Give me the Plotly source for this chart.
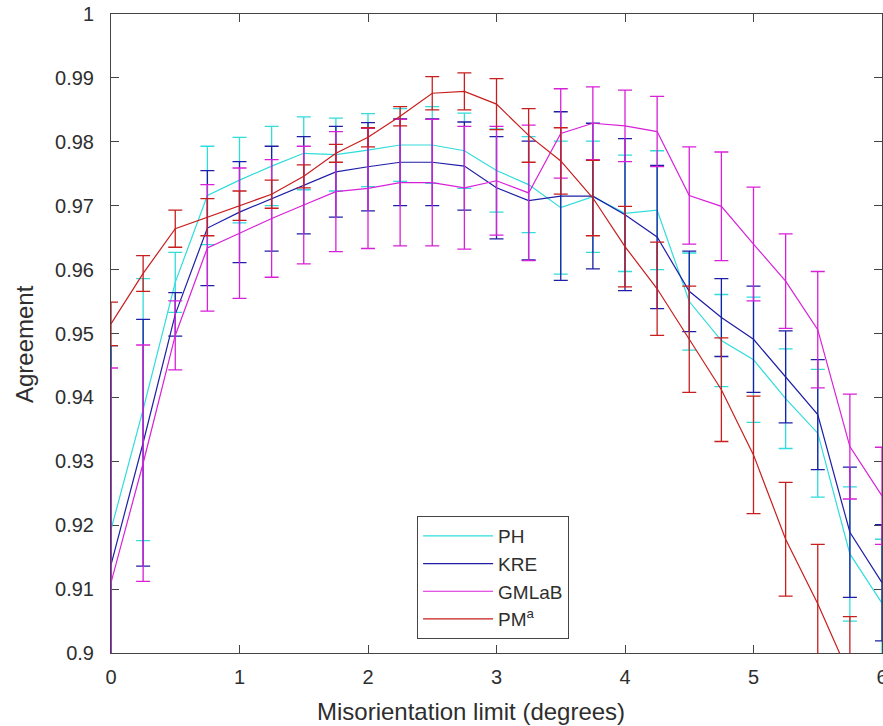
import plotly.graph_objects as go

# Misorientation limit (degrees)
limits = [0, 0.25, 0.5, 0.75, 1, 1.25, 1.5, 1.75, 2, 2.25, 2.5, 2.75, 3,
          3.25, 3.5, 3.75, 4, 4.25, 4.5, 4.75, 5, 5.25, 5.5, 5.75, 6]

# Mean agreement and error (half-length of the bar) per method
ph_mean = [0.9193, 0.9381, 0.9580, 0.9716, 0.9740, 0.9762, 0.9782, 0.9780, 0.9787,
           0.9795, 0.9795, 0.9786, 0.9755, 0.9733, 0.9697, 0.9714, 0.9688, 0.9693,
           0.9550, 0.9489, 0.9459, 0.9398, 0.9344, 0.9155, 0.9078]
ph_err = [0.0288, 0.0205, 0.0047, 0.0077, 0.0067, 0.0062, 0.0057, 0.0057, 0.0057,
          0.0057, 0.0060, 0.0059, 0.0065, 0.0075, 0.0104, 0.0087, 0.0091, 0.0093,
          0.0076, 0.0072, 0.0098, 0.0078, 0.0100, 0.0105, 0.0100]

kre_mean = [0.9138, 0.9329, 0.9530, 0.9665, 0.9690, 0.9711, 0.9732, 0.9753, 0.9761,
            0.9768, 0.9768, 0.9762, 0.9728, 0.9708, 0.9715, 0.9715, 0.9686, 0.9651,
            0.9566, 0.9525, 0.9491, 0.9432, 0.9373, 0.9189, 0.9110]
kre_err = [0.0343, 0.0193, 0.0034, 0.0090, 0.0079, 0.0082, 0.0076, 0.0071, 0.0069,
           0.0068, 0.0068, 0.0069, 0.0080, 0.0093, 0.0132, 0.0114, 0.0119, 0.0112,
           0.0063, 0.0061, 0.0083, 0.0072, 0.0086, 0.0102, 0.0091]

gmlab_mean = [0.9110, 0.9297, 0.9497, 0.9634, 0.9657, 0.9680, 0.9701, 0.9722, 0.9727,
              0.9736, 0.9736, 0.9728, 0.9739, 0.9720, 0.9813, 0.9829, 0.9825, 0.9816,
              0.9716, 0.9699, 0.9640, 0.9582, 0.9506, 0.9323, 0.9246]
gmlab_err = [0.0336, 0.0185, 0.0054, 0.0099, 0.0102, 0.0092, 0.0092, 0.0094, 0.0094,
             0.0099, 0.0099, 0.0096, 0.0085, 0.0106, 0.0070, 0.0057, 0.0056, 0.0055,
             0.0076, 0.0085, 0.0089, 0.0074, 0.0091, 0.0082, 0.0076]

pma_mean = [0.9515, 0.9594, 0.9664, 0.9682, 0.9700, 0.9718, 0.9746, 0.9782, 0.9807,
            0.9840, 0.9876, 0.9879, 0.9859, 0.9810, 0.9770, 0.9712, 0.9636, 0.9570,
            0.9491, 0.9412, 0.9310, 0.9178, 0.9077, 0.8964, 0.8850]
pma_err = [0.0034, 0.0028, 0.0029, 0.0029, 0.0023, 0.0022, 0.0018, 0.0014, 0.0015,
           0.0015, 0.0026, 0.0029, 0.0040, 0.0042, 0.0052, 0.0059, 0.0063, 0.0073,
           0.0083, 0.0081, 0.0092, 0.0089, 0.0093, 0.0093, 0.0095]

series_names = ["PH", "KRE", "GMLaB", "PM<sup>a</sup>"]
series_colors = ["#30dcdc", "#1e1ea6", "#d820d8", "#c81e1e"]

x_ticks = [0, 1, 2, 3, 4, 5, 6]
y_ticks = [0.9, 0.91, 0.92, 0.93, 0.94, 0.95, 0.96, 0.97, 0.98, 0.99, 1.0]
y_tick_labels = ["0.9", "0.91", "0.92", "0.93", "0.94", "0.95", "0.96",
                 "0.97", "0.98", "0.99", "1"]

means = [ph_mean, kre_mean, gmlab_mean, pma_mean]
errors = [ph_err, kre_err, gmlab_err, pma_err]

FONT = "Liberation Sans, Arial, Helvetica, sans-serif"
TEXT = "#2e2e2e"
AXIS = "#444444"

fig = go.Figure()
for name, m, e, c in zip(series_names, means, errors, series_colors):
    fig.add_trace(go.Scatter(
        x=limits, y=m, mode="lines", name=name,
        line=dict(color=c, width=1.2),
        error_y=dict(type="data", array=e, visible=True,
                     color=c, thickness=1.3, width=7),
    ))

axis_common = dict(
    showline=True, linecolor=AXIS, linewidth=1, mirror="ticks",
    ticks="inside", ticklen=8, tickcolor=AXIS, tickwidth=1,
    showgrid=False, zeroline=False, layer="below traces",
    ticklabeloverflow="allow", automargin=False,
    tickfont=dict(family=FONT, size=20, color=TEXT),
)

fig.update_layout(
    width=883, height=726,
    margin=dict(l=111, r=1, t=14, b=73),
    paper_bgcolor="white", plot_bgcolor="white",
    font=dict(family=FONT, color=TEXT),
    xaxis=dict(range=[0, 6], tickvals=x_ticks, ticklabelstandoff=6,
               **axis_common),
    yaxis=dict(range=[0.9, 1.0], tickvals=y_ticks, ticktext=y_tick_labels,
               ticklabelstandoff=12, **axis_common),
    legend=dict(
        x=0.397, y=0.2144, xanchor="left", yanchor="top",
        bgcolor="white", bordercolor=AXIS, borderwidth=1,
        font=dict(family=FONT, size=19, color=TEXT),
        itemwidth=70, tracegroupgap=0,
    ),
    annotations=[
        dict(text="Misorientation limit (degrees)", xref="paper", yref="paper",
             x=0.467, y=-0.0923, xanchor="center", yanchor="middle",
             showarrow=False, font=dict(family=FONT, size=24, color=TEXT)),
        dict(text="Agreement", xref="paper", yref="paper",
             x=-0.1115, y=0.4836, xanchor="center", yanchor="middle",
             textangle=-90, showarrow=False,
             font=dict(family=FONT, size=24, color=TEXT)),
    ],
)

fig.write_html("out.html")
